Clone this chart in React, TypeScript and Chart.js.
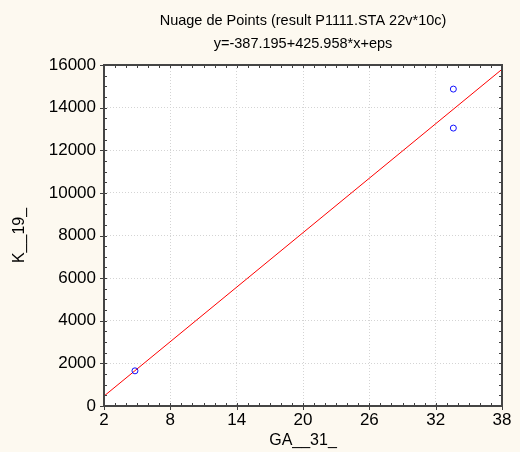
import React, { useEffect, useRef } from "react";
import { Chart, registerables } from "chart.js";

Chart.register(...registerables);

const titleLines = ["Nuage de Points (result P1111.STA 22v*10c)", "y=-387.195+425.958*x+eps"];
const xLabel = "GA__31_";
const yLabel = "K__19_";

// observed points
const pointX = [4.8, 33.6, 33.6];
const pointY = [1650, 14870, 13040];

// regression line endpoints (y = -387.195 + 425.958*x at x=2 and x=38)
const lineX = [2, 38];
const lineY = [464.7, 15799.2];

const xMin = 2, xMax = 38, xStep = 6, xMinorStep = 1;
const yMin = 0, yMax = 16000, yStep = 2000, yMinorStep = 500;

const BG = "#FDF9F0";
const FONT = "'Liberation Sans', Arial, sans-serif";

const framePlugin = {
  id: "frame",
  beforeDraw(chart: any) {
    const { ctx, chartArea: a } = chart;
    ctx.save();
    ctx.fillStyle = "#FFFFFF";
    ctx.fillRect(a.left, a.top, a.right - a.left, a.bottom - a.top);
    ctx.restore();
  },
  afterDraw(chart: any) {
    const { ctx, chartArea: a, scales } = chart;
    const xs = scales.x, ys = scales.y;
    ctx.save();
    ctx.strokeStyle = "#404040";
    ctx.lineWidth = 1;
    ctx.beginPath();
    for (let v = xMin; v <= xMax + 1e-9; v += xMinorStep) {
      const px = Math.round(xs.getPixelForValue(v)) + 0.5;
      ctx.moveTo(px, a.bottom); ctx.lineTo(px, a.bottom - 3);
      ctx.moveTo(px, a.top); ctx.lineTo(px, a.top + 3);
    }
    for (let v = yMin; v <= yMax + 1e-9; v += yMinorStep) {
      const py = Math.round(ys.getPixelForValue(v)) + 0.5;
      ctx.moveTo(a.left, py); ctx.lineTo(a.left + 3, py);
      ctx.moveTo(a.right, py); ctx.lineTo(a.right - 3, py);
    }
    for (let v = xMin; v <= xMax + 1e-9; v += xStep) {
      const px = Math.round(xs.getPixelForValue(v)) + 0.5;
      ctx.moveTo(px, a.bottom); ctx.lineTo(px, a.bottom + 4);
    }
    for (let v = yMin; v <= yMax + 1e-9; v += yStep) {
      const py = Math.round(ys.getPixelForValue(v)) + 0.5;
      ctx.moveTo(a.left, py); ctx.lineTo(a.left - 4, py);
    }
    ctx.stroke();
    ctx.lineWidth = 2;
    ctx.strokeStyle = "#454545";
    ctx.strokeRect(a.left, a.top, a.right - a.left, a.bottom - a.top);
    ctx.restore();
  },
};

export default function App() {
  const ref = useRef<HTMLCanvasElement>(null);
  useEffect(() => {
    if (!ref.current) return;
    const chart = new Chart(ref.current, {
      type: "scatter",
      data: {
        datasets: [
          {
            label: "points",
            data: pointX.map((x, i) => ({ x, y: pointY[i] })),
            pointStyle: "circle",
            pointRadius: 3,
            pointBorderColor: "#1010FF",
            pointBackgroundColor: "rgba(0,0,0,0)",
            pointBorderWidth: 1,
            showLine: false,
          },
          {
            label: "fit",
            data: lineX.map((x, i) => ({ x, y: lineY[i] })),
            showLine: true,
            borderColor: "#FF0000",
            borderWidth: 1,
            pointRadius: 0,
            fill: false,
          },
        ],
      },
      options: {
        animation: false,
        responsive: false,
        layout: { padding: { left: 0, right: 18, top: 0, bottom: 0 } },
        plugins: {
          legend: { display: false },
          tooltip: { enabled: false },
          title: {
            display: true,
            text: titleLines,
            fullSize: false,
            color: "#000000",
            font: { family: FONT, size: 14.5, weight: "normal", lineHeight: 23 / 14.5 },
            padding: { top: 9.5, bottom: 9.5 },
          },
        },
        scales: {
          x: {
            type: "linear",
            min: xMin,
            max: xMax,
            afterFit: (s: any) => { s.height = 46; },
            ticks: { stepSize: xStep, color: "#000", font: { family: FONT, size: 17 }, padding: 4, maxRotation: 0, callback: (v: any) => String(v) },
            grid: { color: "#D4D4D4", drawTicks: false },
            border: { display: false, dash: [1, 2] },
            title: { display: true, text: xLabel, color: "#000", font: { family: FONT, size: 16 }, padding: { top: 0, bottom: 1.5 } },
          },
          y: {
            type: "linear",
            min: yMin,
            max: yMax,
            afterFit: (s: any) => { s.width = 104; },
            ticks: { stepSize: yStep, color: "#000", font: { family: FONT, size: 17 }, padding: 8, callback: (v: any) => String(v) },
            grid: { color: "#D4D4D4", drawTicks: false },
            border: { display: false, dash: [1, 2] },
            title: { display: true, text: yLabel, color: "#000", font: { family: FONT, size: 16 }, padding: { top: 10, bottom: 0 } },
          },
        },
      },
      plugins: [framePlugin],
    } as any);
    return () => chart.destroy();
  }, []);
  return (
    <div style={{ position: "fixed", left: 0, top: 0, width: 520, height: 452, background: BG }}>
      <canvas ref={ref} width={520} height={452} style={{ display: "block" }} />
    </div>
  );
}
